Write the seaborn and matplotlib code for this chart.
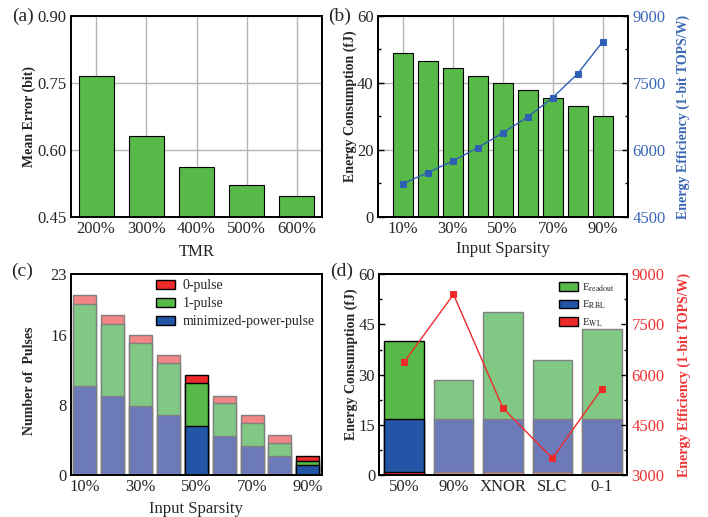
import numpy as np
import matplotlib
matplotlib.use("Agg")
import matplotlib.pyplot as plt
import seaborn as sns
from matplotlib.ticker import AutoMinorLocator, FixedLocator
from matplotlib.patches import Patch

# ---------------- data ----------------
tmr_labels = ["200%", "300%", "400%", "500%", "600%"]
mean_error = [0.765, 0.631, 0.563, 0.521, 0.496]

sparsity_labels = ["10%", "20%", "30%", "40%", "50%", "60%", "70%", "80%", "90%"]
energy_consumption = [48.9, 46.5, 44.4, 42.2, 40.0, 37.8, 35.4, 33.0, 30.2]
energy_efficiency = [5245, 5492, 5754, 6052, 6381, 6739, 7171, 7709, 8425]

min_power_pulse = [10.2, 9.1, 7.95, 6.85, 5.6, 4.5, 3.35, 2.2, 1.1]
one_pulse = [9.45, 8.2, 7.15, 5.95, 4.9, 3.7, 2.6, 1.5, 0.55]
zero_pulse = [1.0, 1.0, 0.95, 1.0, 0.95, 0.9, 0.9, 0.85, 0.57]
highlight_c = ["50%", "90%"]

schemes = ["50%", "90%", "XNOR", "SLC", "0-1"]
e_wl = [0.8, 0.8, 0.8, 0.8, 0.8]
e_rbl = [15.9, 15.9, 15.9, 15.9, 15.9]
e_readout = [23.5, 11.6, 32.1, 17.6, 26.9]
scheme_efficiency = [6370, 8400, 5000, 3500, 5580]
highlight_d = ["50%"]

# ---------------- style ----------------
sns.set_theme(style="white")
plt.rcParams["font.family"] = ["Liberation Serif", "DejaVu Serif"]
plt.rcParams["mathtext.fontset"] = "stix"
plt.rcParams["axes.linewidth"] = 1.4

RED, GREEN, BLUE = "#ee2b2b", "#57b947", "#2255a5"
RED_F, GREEN_F, BLUE_F = "#f28585", "#80c883", "#6d7aba"
EDGE_F = "#808080"
LINE_BLUE = "#2f5fb3"
TXT_BLUE = "#3b68b5"
TXT_RED = "#ee3333"

TICK_FS = 12
LAB_FS = 12
YLAB_FS = 10

fig = plt.figure(figsize=(7.08, 5.17), dpi=100)
W, H = 708, 517


def add_ax(left, top, width, height):
    return fig.add_axes([left / W, 1 - (top + height) / H, width / W, height / H])


def bars(ax, cats, vals, colors, edges, width, lw=0.8):
    n0 = len(ax.patches)
    sns.barplot(x=cats, y=vals, hue=cats, order=cats, hue_order=cats,
                palette=dict(zip(cats, colors)), legend=False, ax=ax,
                width=width, saturation=1, dodge=False)
    for p, ec in zip(ax.patches[n0:], edges):
        p.set_edgecolor(ec)
        p.set_linewidth(lw)


def style_ticks(ax):
    ax.tick_params(axis="both", which="major", direction="in", length=4, width=1,
                   labelsize=TICK_FS, color="black", top=False, right=False, pad=3)
    ax.tick_params(axis="both", which="minor", direction="in", length=2.5, width=1,
                   color="black", top=False, right=False)
    for s in ax.spines.values():
        s.set_color("black")
        s.set_linewidth(1.4)


# ---------------- (a) ----------------
axa = add_ax(71, 16, 251, 201)
bars(axa, tmr_labels, mean_error, [GREEN] * 5, ["black"] * 5, 0.7)
axa.set_ylim(0.45, 0.90)
axa.set_yticks([0.45, 0.60, 0.75, 0.90])
axa.set_yticklabels(["0.45", "0.60", "0.75", "0.90"])
axa.yaxis.set_minor_locator(AutoMinorLocator(2))
axa.set_xlim(-0.5, 4.5)
axa.grid(True, color="#b4b4b4", lw=1)
axa.set_axisbelow(True)
style_ticks(axa)
axa.set_xlabel("TMR", fontsize=LAB_FS)
axa.set_ylabel("Mean Error (bit)", fontsize=YLAB_FS, fontweight="bold")
axa.yaxis.set_label_coords(-0.140, 0.5)
axa.xaxis.set_label_coords(0.5, -0.133)

# ---------------- (b) ----------------
axb = add_ax(377.7, 16, 250, 201)
nb = len(sparsity_labels)
bars(axb, sparsity_labels, energy_consumption, [GREEN] * nb, ["black"] * nb, 0.8)
axb2 = axb.twinx()
sns.lineplot(x=np.arange(nb), y=energy_efficiency, ax=axb2, color=LINE_BLUE,
             marker="s", markersize=4, markeredgecolor=LINE_BLUE, linewidth=1)
axb.set_ylim(0, 60)
axb.set_yticks([0, 20, 40, 60])
axb.yaxis.set_minor_locator(AutoMinorLocator(2))
axb.set_xticks(np.arange(0, nb, 2))
axb.set_xticklabels(sparsity_labels[::2])
axb.xaxis.set_minor_locator(FixedLocator(np.arange(1, nb, 2)))
axb.set_xlim(-1, nb)
axb.grid(True, which="major", color="#b4b4b4", lw=1)
axb.set_axisbelow(True)
style_ticks(axb)
axb2.set_ylim(4500, 9000)
axb2.set_yticks([4500, 6000, 7500, 9000])
axb2.yaxis.set_minor_locator(AutoMinorLocator(2))
axb2.tick_params(axis="y", which="major", direction="in", length=4, width=1,
                 labelsize=TICK_FS, labelcolor=TXT_BLUE, color="black")
axb2.tick_params(axis="y", which="minor", direction="in", length=2.5, width=1, color="black")
for s in axb2.spines.values():
    s.set_linewidth(1.4)
    s.set_color("black")
axb.set_xlabel("Input Sparsity", fontsize=LAB_FS)
axb.set_ylabel("Energy Consumption (fJ)", fontsize=YLAB_FS, fontweight="bold")
axb.yaxis.set_label_coords(-0.083, 0.55)
axb.xaxis.set_label_coords(0.5, -0.119)
axb2.set_ylabel("Energy Efficiency (1-bit TOPS/W)", fontsize=YLAB_FS,
                fontweight="bold", color=TXT_BLUE)
axb2.yaxis.set_label_coords(1.194, 0.5)
axb2.set_xlabel("")

# ---------------- (c) ----------------
axc = add_ax(71, 274.3, 250.7, 200.7)
nc = len(sparsity_labels)
hl_c = [lab in highlight_c for lab in sparsity_labels]
cum_blue = np.array(min_power_pulse)
cum_green = cum_blue + np.array(one_pulse)
cum_red = cum_green + np.array(zero_pulse)
edges_c = ["black" if h else EDGE_F for h in hl_c]
bars(axc, sparsity_labels, cum_red, [RED if h else RED_F for h in hl_c], edges_c, 0.83, lw=1.0)
bars(axc, sparsity_labels, cum_green, [GREEN if h else GREEN_F for h in hl_c], edges_c, 0.83, lw=1.0)
bars(axc, sparsity_labels, cum_blue, [BLUE if h else BLUE_F for h in hl_c], edges_c, 0.83, lw=1.0)
axc.set_ylim(0, 23)
axc.set_yticks([0, 8, 16, 23])
axc.set_xticks(np.arange(0, nc, 2))
axc.set_xticklabels(sparsity_labels[::2])
axc.xaxis.set_minor_locator(FixedLocator(np.arange(1, nc, 2)))
axc.set_xlim(-0.5, nc - 0.5)
style_ticks(axc)
axc.set_xlabel("Input Sparsity", fontsize=LAB_FS)
axc.set_ylabel("Number of  Pulses", fontsize=YLAB_FS, fontweight="bold")
axc.yaxis.set_label_coords(-0.139, 0.47)
axc.xaxis.set_label_coords(0.5, -0.132)
leg_c = [Patch(facecolor=RED, edgecolor="black", label="0-pulse"),
         Patch(facecolor=GREEN, edgecolor="black", label="1-pulse"),
         Patch(facecolor=BLUE, edgecolor="black", label="minimized-power-pulse")]
axc.legend(handles=leg_c, loc="upper left", bbox_to_anchor=(0.339, 0.975),
           frameon=False, fontsize=10, handlelength=1.4, handleheight=0.65,
           labelspacing=0.35, borderpad=0, borderaxespad=0, handletextpad=0.5)

# ---------------- (d) ----------------
axd = add_ax(379.3, 274.3, 247.3, 200.7)
nd = len(schemes)
hl_d = [s in highlight_d for s in schemes]
cum_wl = np.array(e_wl)
cum_rbl = cum_wl + np.array(e_rbl)
cum_read = cum_rbl + np.array(e_readout)
edges_d = ["black" if h else EDGE_F for h in hl_d]
bars(axd, schemes, cum_read, [GREEN if h else GREEN_F for h in hl_d], edges_d, 0.8, lw=1.0)
bars(axd, schemes, cum_rbl, [BLUE if h else BLUE_F for h in hl_d], edges_d, 0.8, lw=1.0)
bars(axd, schemes, cum_wl, [RED if h else RED_F for h in hl_d], edges_d, 0.8, lw=1.0)
axd2 = axd.twinx()
sns.lineplot(x=np.arange(nd), y=scheme_efficiency, ax=axd2, color=RED,
             marker="s", markersize=5, markeredgecolor=RED, linewidth=1)
axd.set_ylim(0, 60)
axd.set_yticks([0, 15, 30, 45, 60])
axd.yaxis.set_minor_locator(AutoMinorLocator(2))
axd.set_xticks(np.arange(nd))
axd.set_xticklabels(schemes)
axd.set_xlim(-0.5, nd - 0.5)
style_ticks(axd)
axd2.set_ylim(3000, 9000)
axd2.set_yticks([3000, 4500, 6000, 7500, 9000])
axd2.yaxis.set_minor_locator(AutoMinorLocator(2))
axd2.tick_params(axis="y", which="major", direction="in", length=4, width=1,
                 labelsize=TICK_FS, labelcolor=TXT_RED, color="black")
axd2.tick_params(axis="y", which="minor", direction="in", length=2.5, width=1, color="black")
for s in axd2.spines.values():
    s.set_linewidth(1.4)
    s.set_color("black")
axd.set_xlabel("")
axd.set_ylabel("Energy Consumption (fJ)", fontsize=YLAB_FS, fontweight="bold")
axd.yaxis.set_label_coords(-0.086, 0.55)
axd2.set_ylabel("Energy Efficiency (1-bit TOPS/W)", fontsize=YLAB_FS,
                fontweight="bold", color=TXT_RED)
axd2.yaxis.set_label_coords(1.206, 0.5)
axd2.set_xlabel("")
leg_d = [Patch(facecolor=GREEN, edgecolor="black", label=r"E$_{\mathrm{readout}}$"),
         Patch(facecolor=BLUE, edgecolor="black", label=r"E$_{\mathrm{RBL}}$"),
         Patch(facecolor=RED, edgecolor="black", label=r"E$_{\mathrm{WL}}$")]
axd.legend(handles=leg_d, loc="upper left", bbox_to_anchor=(0.727, 0.965),
           frameon=False, fontsize=8, handlelength=1.7, handleheight=0.75,
           labelspacing=0.45, borderpad=0, borderaxespad=0, handletextpad=0.4)

# ---------------- panel letters ----------------
fig.text(11.7 / W, 1 - 16.7 / H, "(a)", fontsize=14, va="center", ha="left")
fig.text(328 / W, 1 - 16.7 / H, "(b)", fontsize=14, va="center", ha="left")
fig.text(11 / W, 1 - 271 / H, "(c)", fontsize=14, va="center", ha="left")
fig.text(330 / W, 1 - 271 / H, "(d)", fontsize=14, va="center", ha="left")

fig.savefig("out.png", dpi=100)
